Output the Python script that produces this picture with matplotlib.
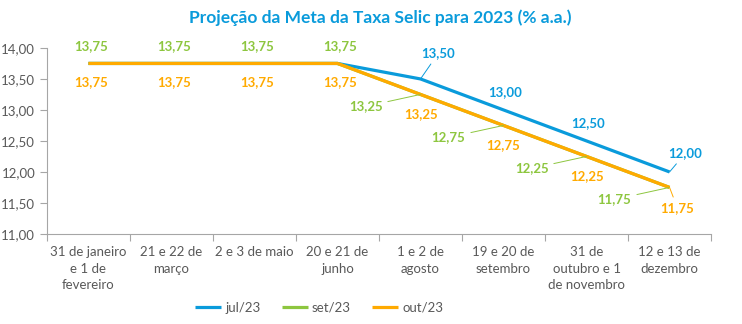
import matplotlib.pyplot as plt

plt.rcParams['font.family'] = ['Lato', 'DejaVu Sans']

categorias = ["31 de janeiro\ne 1 de\nfevereiro", "21 e 22 de\nmarço", "2 e 3 de maio",
              "20 e 21 de\njunho", "1 e 2 de\nagosto", "19 e 20 de\nsetembro",
              "31 de\noutubro e 1\nde novembro", "12 e 13 de\ndezembro"]
jul23 = [13.75, 13.75, 13.75, 13.75, 13.50, 13.00, 12.50, 12.00]
set23 = [13.75, 13.75, 13.75, 13.75, 13.25, 12.75, 12.25, 11.75]
out23 = [13.75, 13.75, 13.75, 13.75, 13.25, 12.75, 12.25, 11.75]

azul = '#0A9BDB'
verde = '#8DC63F'
laranja = '#FFAA00'
cinza = '#595959'

fig = plt.figure(figsize=(7.42, 3.24), dpi=100)
ax = fig.add_axes([0.0633, 0.278, 0.895, 0.574])

x = [i + 0.5 for i in range(len(categorias))]
ax.plot(x, jul23, color=azul, lw=2.3, label='jul/23', solid_capstyle='butt')
ax.plot(x, set23, color=verde, lw=2.3, label='set/23', solid_capstyle='butt')
ax.plot(x, out23, color=laranja, lw=2.3, label='out/23', solid_capstyle='butt')

def fmt(v):
    return f"{v:.2f}".replace('.', ',')

def rotulo(xi, yi, dx, dy, cor, linha=False):
    ap = dict(arrowstyle='-', color=cor, lw=0.7, shrinkA=2, shrinkB=0) if linha else None
    ax.annotate(fmt(yi), (xi, yi), xytext=(dx, dy), textcoords='offset pixels',
                ha='center', va='center', color=cor, fontsize=9.5, fontweight='bold',
                arrowprops=ap)

for i, (xi, v) in enumerate(zip(x, jul23)):
    if i < 4:
        continue
    if i == 4:
        rotulo(xi, v, 18, 26, azul, True)
    elif i == 7:
        rotulo(xi, v, 16, 19, azul, True)
    else:
        rotulo(xi, v, 2, 18, azul)

for i, (xi, v) in enumerate(zip(x, set23)):
    if i < 4:
        rotulo(xi, v, 3, 17, verde)
    else:
        rotulo(xi, v, -55, -12, verde, True)

for i, (xi, v) in enumerate(zip(x, out23)):
    if i < 4:
        rotulo(xi, v, 3, -19, laranja)
    elif i == 7:
        rotulo(xi, v, 8, -21, laranja, True)
    else:
        rotulo(xi, v, 0, -20, laranja)

ax.set_xlim(0, len(categorias))
ax.set_ylim(11, 14)
ax.set_yticks([11 + 0.5 * k for k in range(7)])
ax.set_yticklabels([fmt(11 + 0.5 * k) for k in range(7)])
ax.set_xticks(range(len(categorias) + 1))
ax.set_xticklabels([])
ax.set_xticks(x, minor=True)
ax.set_xticklabels(categorias, minor=True, linespacing=1.45)
ax.tick_params(axis='x', which='major', length=5, color='#A6A6A6', direction='out')
ax.tick_params(axis='x', which='minor', length=0, pad=9, labelsize=9.5, labelcolor=cinza)
ax.tick_params(axis='y', length=5, color='#A6A6A6', labelsize=9.5, labelcolor=cinza)

for s in ['top', 'right']:
    ax.spines[s].set_visible(False)
for s in ['left', 'bottom']:
    ax.spines[s].set_color('#A6A6A6')

fig.text(0.512, 0.945, 'Projeção da Meta da Taxa Selic para 2023 (% a.a.)', ha='center', va='center',
         color=azul, fontsize=12.5, fontweight='bold')

leg = fig.legend(loc='center', bbox_to_anchor=(0.43, 0.05), ncol=3, frameon=False,
                 fontsize=9.5, handlelength=2.0, columnspacing=1.6, handletextpad=0.3)
for t in leg.get_texts():
    t.set_color(cinza)

fig.savefig('out.png', dpi=100)
